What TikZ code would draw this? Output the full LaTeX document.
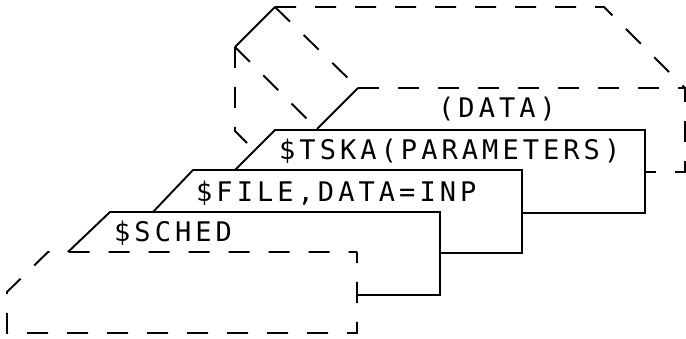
\documentclass[tikz,border=0pt]{standalone}
\usepackage{fontspec}
\newfontfamily\plotfont[LetterSpace=15]{DejaVu Sans Mono}
\usetikzlibrary{positioning}

\begin{document}
\begin{tikzpicture}[
    x=1pt, y=-1pt,
    % Styles for the card deck
    card/.style={line width=1.9pt, draw=black, fill=white},
    hidden/.style={line width=1.9pt, draw=black, dash pattern=on 21pt off 19pt},
    cardtext/.style={font=\plotfont\fontsize{27}{27}\selectfont, anchor=base west, inner sep=0pt}
]
\useasboundingbox (0,0) rectangle (686,339);

        % --- Data deck (back) ---
        \coordinate (b1) at (235,131);
        \coordinate (b2) at (235,47);
        \coordinate (b3) at (275,7);
        \coordinate (b4) at (604,7);
        % front card of the data deck
        \coordinate (f1) at (317,129);
        \coordinate (f2) at (358,88);
        \coordinate (f3) at (685,88);
        \coordinate (f4) at (685,172);
        \coordinate (f5) at (317,172);
        \coordinate (f6) at (317,213);

        \draw[hidden] (b2) -- (b1) -- (f6);
        \draw[card] (b2) -- (b3);
        \draw[hidden] (b3) -- (b4) -- (f3);
        \draw[hidden] (b2) -- (f1);
        \draw[hidden] (b3) -- (f2);
        \draw[card] (f1) -- (f2);
        \draw[hidden] (f2) -- (f3) -- (f4) -- (f5);
        \node[cardtext] (data) at (438,118) {(DATA)};

        % --- Cards ---
        % $TSKA card
        \draw[card] (235,213) -- (235,170) -- (275,130) -- (645,130) -- (645,213) -- cycle;
        \node[cardtext] (tska) at (279,160) {\$TSKA(PARAMETERS)};
        % $FILE card
        \draw[card] (153,253) -- (153,212) -- (193,170) -- (522,170) -- (522,253) -- cycle;
        \node[cardtext] (file) at (196,202) {\$FILE,DATA=INP};
        % $SCHED card
        \draw[card] (68,295) -- (68,252) -- (110,212) -- (440,212) -- (440,295) -- cycle;
        \node[cardtext] (sched) at (114,242) {\$SCHED};

        % --- Front card (dashed) ---
        \draw[hidden, fill=white, dash phase=10pt] (357,252) -- (357,333) -- (7,333) -- (7,292) -- (48,252) -- cycle;

    \end{tikzpicture}
\end{document}
